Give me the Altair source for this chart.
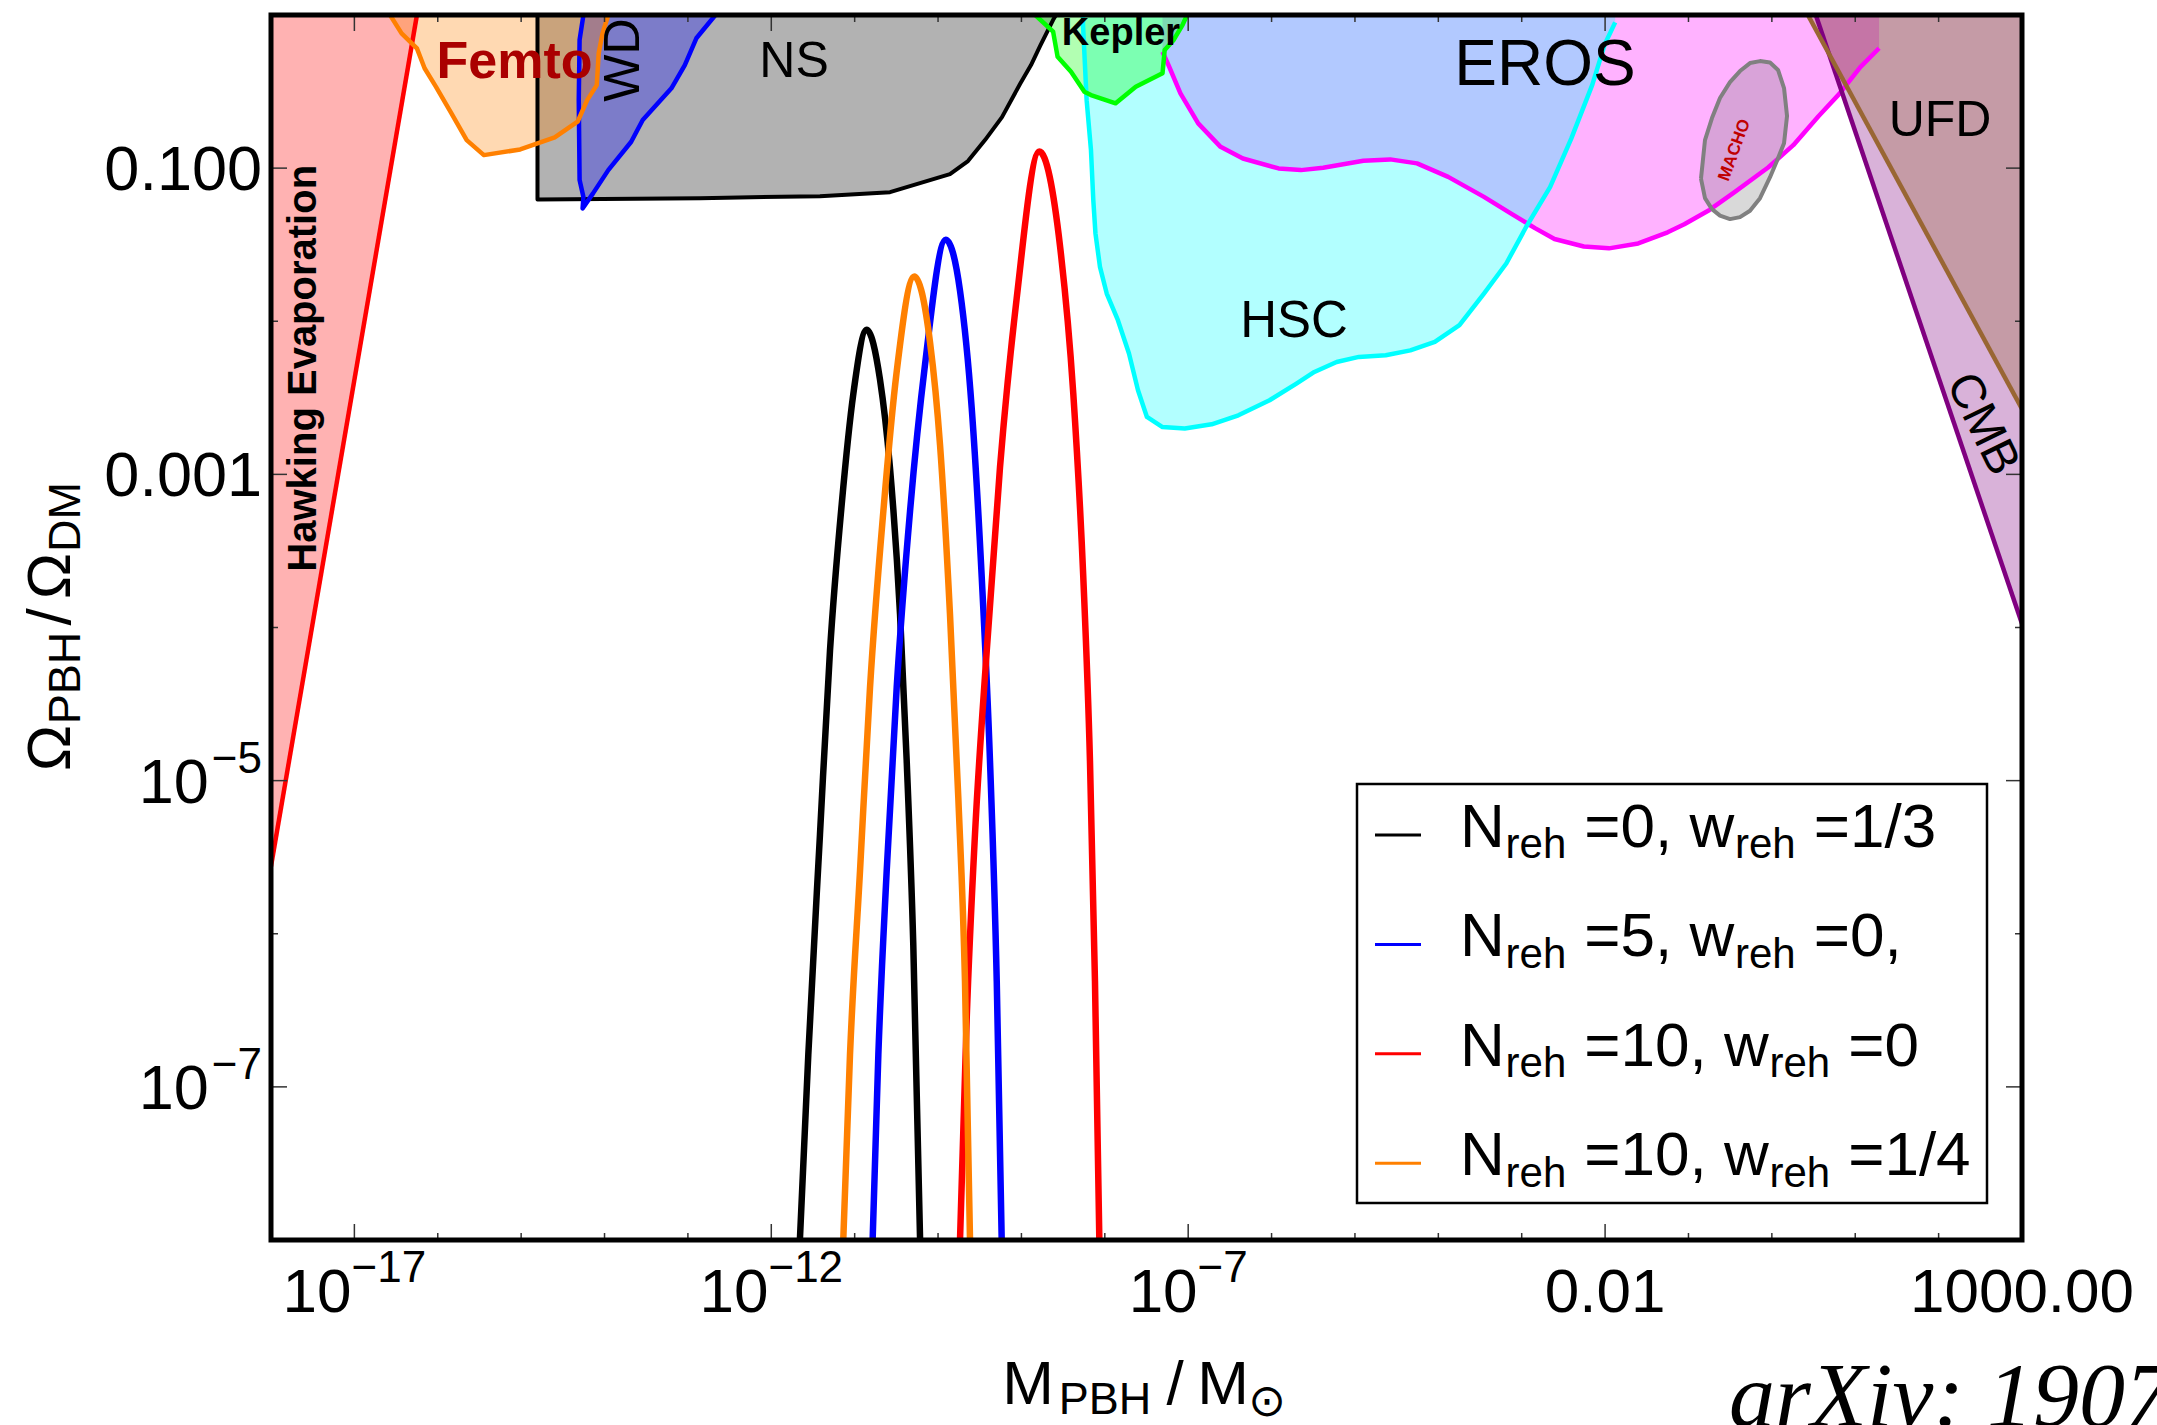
import altair as alt
import numpy as np
import pandas as pd

# ---------------- data: log10(M_PBH / M_sun) and log10(Omega_PBH / Omega_DM) ----------------
HAWKING_LOGM = [-18.0, -16.25]
HAWKING_LOGF = [-5.56, 0.0]

NS_LOGM = [-14.804, -14.804, -12.855, -11.416, -10.576, -9.857, -9.641, -9.437, -9.233, -9.017, -8.885, -8.777, -8.621, -8.585]
NS_LOGF = [0.0, -1.205, -1.196, -1.183, -1.157, -1.039, -0.954, -0.817, -0.667, -0.451, -0.327, -0.203, -0.033, 0.0]

FEMTO_LOGM = [-16.572, -16.434, -16.250, -16.158, -16.021, -15.836, -15.653, -15.447, -15.011, -14.597, -14.323, -14.208, -14.093, -14.070, -14.024, -13.955]
FEMTO_LOGF = [0.0, -0.120, -0.218, -0.348, -0.469, -0.642, -0.817, -0.915, -0.878, -0.799, -0.697, -0.556, -0.458, -0.250, -0.120, 0.0]

WD_LOGM = [-14.253, -14.299, -14.309, -14.299, -14.253, -14.263, -14.138, -13.955, -13.680, -13.542, -13.198, -13.037, -12.899, -12.670]
WD_LOGF = [0.0, -0.163, -0.556, -1.078, -1.188, -1.263, -1.165, -1.013, -0.828, -0.686, -0.479, -0.327, -0.152, 0.0]

KEPLER_LOGM = [-8.834, -8.620, -8.566, -8.405, -8.245, -8.166, -7.870, -7.629, -7.308, -7.282, -7.174, -7.067, -7.014]
KEPLER_LOGF = [0.0, -0.109, -0.273, -0.371, -0.501, -0.523, -0.577, -0.469, -0.381, -0.229, -0.163, -0.065, 0.0]

HSC_LOGM = [-8.262, -8.262, -8.218, -8.166, -8.138, -8.112, -8.058, -7.977, -7.843, -7.710, -7.602, -7.495,
            -7.308, -7.041, -6.719, -6.398, -6.024, -5.702, -5.487, -5.220, -4.953, -4.631, -4.336, -4.042,
            -3.747, -3.453, -3.185, -2.949, -2.660, -2.406, -2.154, -2.005, -1.879]
HSC_LOGF = [0.0, -0.054, -0.556, -0.882, -1.209, -1.427, -1.645, -1.819, -1.993, -2.211, -2.451, -2.625,
            -2.691, -2.701, -2.673, -2.614, -2.516, -2.407, -2.331, -2.266, -2.233, -2.222, -2.190, -2.135,
            -2.026, -1.819, -1.623, -1.386, -1.124, -0.807, -0.456, -0.193, -0.048]

EROS_LOGM = [-7.308, -7.228, -7.093, -6.880, -6.612, -6.344, -5.916, -5.648, -5.381, -4.899, -4.577, -4.256,
             -3.882, -3.453, -3.132, -2.841, -2.607, -2.255, -1.954, -1.603, -1.250, -1.050, -0.748, -0.447,
             -0.045, 0.257, 0.559, 0.809, 1.061, 1.286]
EROS_LOGF = [-0.240, -0.338, -0.512, -0.708, -0.861, -0.937, -1.002, -1.013, -0.998, -0.952, -0.943, -0.969,
             -1.057, -1.188, -1.296, -1.392, -1.463, -1.512, -1.524, -1.492, -1.419, -1.367, -1.273, -1.157,
             -0.996, -0.850, -0.661, -0.515, -0.340, -0.217]

MACHO_LOGM = [-0.850, -0.802, -0.718, -0.622, -0.502, -0.382, -0.262, -0.142, -0.022, 0.074, 0.146, 0.182]
MACHO_UPPER = [-1.069, -0.817, -0.673, -0.542, -0.438, -0.366, -0.314, -0.301, -0.310, -0.359, -0.477, -0.660]
MACHO_LOWER = [-1.069, -1.196, -1.268, -1.310, -1.333, -1.320, -1.278, -1.196, -1.059, -0.935, -0.837, -0.660]

UFD_LOGM = [0.432, 3.0]
UFD_LOGF = [0.0, -2.573]
CMB_LOGM = [0.527, 3.0]
CMB_LOGF = [0.0, -3.976]

# ---------------- PBH abundance curves ----------------
BLACK_LOGM = [-11.656, -11.556, -11.416, -11.296, -11.155, -11.016, -10.856, -10.697, -10.577, -10.456, -10.376, -10.297, -10.216]
BLACK_LOGF = [-7.988, -6.790, -5.351, -4.152, -3.193, -2.474, -2.055, -2.378, -2.953, -3.912, -4.871, -6.070, -7.988]
BLUE_LOGM = [-10.784, -10.716, -10.616, -10.496, -10.336, -10.156, -9.908, -9.736, -9.596, -9.476, -9.377, -9.296, -9.237]
BLUE_LOGF = [-7.988, -6.790, -5.590, -4.392, -3.241, -2.282, -1.467, -1.803, -2.569, -3.673, -4.871, -6.310, -7.988]
RED_LOGM = [-9.736, -9.656, -9.557, -9.416, -9.257, -9.057, -8.786, -8.536, -8.378, -8.258, -8.178, -8.118, -8.066]
RED_LOGF = [-7.988, -6.550, -5.351, -4.152, -2.953, -1.850, -0.892, -1.514, -2.474, -3.673, -4.871, -6.310, -7.988]
ORANGE_LOGM = [-11.136, -11.056, -10.936, -10.816, -10.656, -10.496, -10.285, -10.096, -9.976, -9.857, -9.757, -9.677, -9.617]
ORANGE_LOGF = [-7.988, -6.790, -5.590, -4.392, -3.241, -2.329, -1.707, -2.138, -2.809, -3.912, -5.111, -6.310, -7.988]

LEGEND_N = ["0", "5", "10", "10"]
LEGEND_W = ["1/3", "0,", "0", "1/4"]
LEGEND_COLORS = ["#000000", "#0000FF", "#FF0000", "#FF8000"]

# ---------------- region labels (position in data coordinates) ----------------
LABEL_TEXT = ["Femto", "WD", "NS", "Kepler", "EROS", "HSC", "UFD", "CMB", "MACHO", "Hawking Evaporation"]
LABEL_LOGM = [-15.080, -13.772, -11.727, -7.806, -2.721, -5.731, 2.017, 2.521, -0.447, -17.604]
LABEL_LOGF = [-0.310, -0.294, -0.307, -0.122, -0.332, -2.005, -0.693, -2.673, -0.882, -2.307]

# ---------------- axis ticks ----------------
X_MAJOR_EXP = [-17, -12, -7, -2, 3]
X_MINOR_EXP = [-16, -15, -14, -13, -11, -10, -9, -8, -6, -5, -4, -3, -1, 0, 1, 2]
Y_MAJOR_EXP = [-1, -3, -5, -7]
Y_MINOR_EXP = [-2, -4, -6]
X_TICK_TEXT = ["10", "10", "10", "0.01", "1000.00"]
X_TICK_SUP = ["\u221217", "\u221212", "\u22127", "", ""]
Y_TICK_TEXT = ["0.100", "0.001", "10", "10"]
Y_TICK_SUP = ["", "", "\u22125", "\u22127"]

# ---------------- styling / layout ----------------
W, H = 1751, 1225
FONT = "Liberation Sans, Arial, Helvetica, DejaVu Sans, sans-serif"
SERIF = "Liberation Serif, Times New Roman, DejaVu Serif, serif"
XS = alt.Scale(type="log", domain=[1e-18, 1e3], nice=False)
YS = alt.Scale(type="log", domain=[1e-8, 1.0], nice=False)
X_ENC = dict(scale=XS, axis=None)
Y_ENC = dict(scale=YS, axis=None)

EM = {"N": .722, "r": .333, "e": .556, "h": .556, " ": .278, "=": .584, ",": .278, "w": .722,
      "/": .278, ".": .278, "\u2212": .584}


def tw(s, size):
    return sum(EM.get(c, 0.556) for c in s) * size


def pts(logm, logf):
    return pd.DataFrame({"m": np.power(10.0, np.array(logm, dtype=float)),
                         "f": np.power(10.0, np.array(logf, dtype=float)),
                         "i": np.arange(len(logm))})


def fill_layer(logm, logf, color, close_top=True):
    """Closed polygon: boundary plus the top edge of the plot (log f = 0)."""
    lm, lf = list(logm), list(logf)
    if close_top:
        if lf[-1] != 0.0:
            lm, lf = lm + [lm[-1]], lf + [0.0]
        if lf[0] != 0.0:
            lm, lf = lm + [lm[0]], lf + [0.0]
    return alt.Chart(pts(lm, lf)).mark_line(fill=color, fillOpacity=0.3, strokeOpacity=0, clip=True).encode(
        x=alt.X("m:Q", **X_ENC), y=alt.Y("f:Q", **Y_ENC), order="i:Q")


def stroke_layer(logm, logf, color, width=4.0, interp="linear"):
    return alt.Chart(pts(logm, logf)).mark_line(color=color, strokeWidth=width, clip=True,
                                                interpolate=interp, strokeJoin="round").encode(
        x=alt.X("m:Q", **X_ENC), y=alt.Y("f:Q", **Y_ENC), order="i:Q")


def label_layer(i, size, angle=0, bold=False, color="black", font=FONT):
    df = pd.DataFrame({"m": [10.0 ** LABEL_LOGM[i]], "f": [10.0 ** LABEL_LOGF[i]], "t": [LABEL_TEXT[i]]})
    return alt.Chart(df).mark_text(font=font, fontSize=size, angle=angle,
                                   fontWeight="bold" if bold else "normal", color=color,
                                   align="center", baseline="middle").encode(
        x=alt.X("m:Q", **X_ENC), y=alt.Y("f:Q", **Y_ENC), text="t:N")


macho_outline_m = MACHO_LOGM + MACHO_LOGM[::-1][1:]
macho_outline_f = MACHO_UPPER + MACHO_LOWER[::-1][1:]

REGIONS = [
    (HAWKING_LOGM, HAWKING_LOGF, "#FF0000", 4.5),
    (NS_LOGM, NS_LOGF, "#000000", 4.0),
    (WD_LOGM, WD_LOGF, "#0000FF", 4.5),
    (FEMTO_LOGM, FEMTO_LOGF, "#FF8000", 4.5),
    (EROS_LOGM, EROS_LOGF, "#FF00FF", 4.5),
    (HSC_LOGM, HSC_LOGF, "#00FFFF", 4.5),
    (KEPLER_LOGM, KEPLER_LOGF, "#00FF00", 4.5),
    (CMB_LOGM, CMB_LOGF, "#800080", 4.5),
    (UFD_LOGM, UFD_LOGF, "#996633", 4.5),
]

layers = []
for lm, lf, c, _ in REGIONS:
    layers.append(fill_layer(lm, lf, c))
layers.append(fill_layer(macho_outline_m, macho_outline_f, "#808080", close_top=False))

for lm, lf, c, wdt in REGIONS:
    layers.append(stroke_layer(lm, lf, c, wdt))
layers.append(stroke_layer(macho_outline_m, macho_outline_f, "#808080", 4.0))

# PBH curves
for lm, lf, c in [(BLACK_LOGM, BLACK_LOGF, "#000000"), (BLUE_LOGM, BLUE_LOGF, "#0000FF"),
                  (RED_LOGM, RED_LOGF, "#FF0000"), (ORANGE_LOGM, ORANGE_LOGF, "#FF8000")]:
    layers.append(stroke_layer(lm, lf, c, 6.5, "monotone"))

# region labels
layers += [
    label_layer(0, 52, bold=True, color="#AA0000"),
    label_layer(1, 50, angle=270),
    label_layer(2, 50),
    label_layer(3, 38, bold=True),
    label_layer(4, 64),
    label_layer(5, 51),
    label_layer(6, 50),
    label_layer(7, 48, angle=64),
    label_layer(8, 17, angle=290, bold=True, color="#C00000"),
    label_layer(9, 40, angle=270, bold=True),
]


# ticks
def xticks(exps, length, top):
    df = pd.DataFrame({"v": np.power(10.0, np.array(exps, dtype=float))})
    y0, y1 = (0, length) if top else (H, H - length)
    return alt.Chart(df).mark_rule(color="#333333", strokeWidth=1.5).encode(
        x=alt.X("v:Q", **X_ENC), y=alt.value(y0), y2=alt.value(y1))


def yticks(exps, length, right):
    df = pd.DataFrame({"v": np.power(10.0, np.array(exps, dtype=float))})
    x0, x1 = (W, W - length) if right else (0, length)
    return alt.Chart(df).mark_rule(color="#333333", strokeWidth=1.5).encode(
        y=alt.Y("v:Q", **Y_ENC), x=alt.value(x0), x2=alt.value(x1))


for side in (False, True):
    layers += [xticks(X_MAJOR_EXP, 16, side), xticks(X_MINOR_EXP, 7, side),
               yticks(Y_MAJOR_EXP, 16, side), yticks(Y_MINOR_EXP, 7, side)]

# frame
layers.append(alt.Chart(pd.DataFrame({"a": [0]})).mark_rect(
    fill="white", fillOpacity=0, stroke="black", strokeWidth=5).encode(
    x=alt.value(0), x2=alt.value(W), y=alt.value(0), y2=alt.value(H)))

# x tick labels
for e, t, s in zip(X_MAJOR_EXP, X_TICK_TEXT, X_TICK_SUP):
    df = pd.DataFrame({"v": [10.0 ** e], "t": [t], "s": [s]})
    if s:
        total = tw(t, 62) + tw(s, 44)
        layers.append(alt.Chart(df).mark_text(font=FONT, fontSize=62, align="left", baseline="alphabetic",
                                              dx=-total / 2).encode(
            x=alt.X("v:Q", **X_ENC), y=alt.value(H + 72), text="t:N"))
        layers.append(alt.Chart(df).mark_text(font=FONT, fontSize=44, align="left", baseline="alphabetic",
                                              dx=-total / 2 + tw(t, 62)).encode(
            x=alt.X("v:Q", **X_ENC), y=alt.value(H + 42), text="s:N"))
    else:
        layers.append(alt.Chart(df).mark_text(font=FONT, fontSize=62, align="center", baseline="alphabetic").encode(
            x=alt.X("v:Q", **X_ENC), y=alt.value(H + 72), text="t:N"))

# y tick labels
for e, t, s in zip(Y_MAJOR_EXP, Y_TICK_TEXT, Y_TICK_SUP):
    df = pd.DataFrame({"v": [10.0 ** e], "t": [t], "s": [s]})
    if s:
        layers.append(alt.Chart(df).mark_text(font=FONT, fontSize=44, align="right", baseline="alphabetic",
                                              dy=-8).encode(
            y=alt.Y("v:Q", **Y_ENC), x=alt.value(-9), text="s:N"))
        layers.append(alt.Chart(df).mark_text(font=FONT, fontSize=63, align="right", baseline="alphabetic",
                                              dy=22).encode(
            y=alt.Y("v:Q", **Y_ENC), x=alt.value(-9 - tw(s, 44) - 3), text="t:N"))
    else:
        layers.append(alt.Chart(df).mark_text(font=FONT, fontSize=63, align="right", baseline="alphabetic",
                                              dy=22).encode(
            y=alt.Y("v:Q", **Y_ENC), x=alt.value(-9), text="t:N"))

# axis titles (pieces with subscripts)
xt = pd.DataFrame({"t": ["M", "PBH", "/", "M", "\u2299"],
                   "px": [757, 834, 904, 952, 996],
                   "py": [1389, 1399, 1389, 1389, 1401],
                   "sz": [62, 45, 62, 62, 45]})
layers.append(alt.Chart(xt).mark_text(font=FONT, align="center", baseline="alphabetic").encode(
    x=alt.X("px:Q", scale=None, axis=None), y=alt.Y("py:Q", scale=None, axis=None),
    size=alt.Size("sz:Q", scale=None, legend=None), text="t:N"))
yt = pd.DataFrame({"t": ["\u03a9", "PBH", "/", "\u03a9", "DM"],
                   "px": [-201, -191, -201, -201, -191],
                   "py": [733, 663, 602, 561, 502],
                   "sz": [62, 45, 62, 62, 45]})
layers.append(alt.Chart(yt).mark_text(font=FONT, align="center", baseline="alphabetic", angle=270).encode(
    x=alt.X("px:Q", scale=None, axis=None), y=alt.Y("py:Q", scale=None, axis=None),
    size=alt.Size("sz:Q", scale=None, legend=None), text="t:N"))

# legend
LX0, LY0, LX1, LY1 = 1086, 769, 1716, 1188
layers.append(alt.Chart(pd.DataFrame({"a": [0]})).mark_rect(fill="white", stroke="black", strokeWidth=2.5).encode(
    x=alt.value(LX0), x2=alt.value(LX1), y=alt.value(LY0), y2=alt.value(LY1)))
row_y = [820 + 109.4 * k for k in range(len(LEGEND_N))]
layers.append(alt.Chart(pd.DataFrame({"x1": [1104] * 4, "x2": [1150] * 4, "y": row_y, "c": LEGEND_COLORS})).mark_rule(
    strokeWidth=3).encode(
    x=alt.X("x1:Q", scale=None, axis=None), x2="x2:Q", y=alt.Y("y:Q", scale=None, axis=None),
    color=alt.Color("c:N", scale=None, legend=None)))
rows = []
for k, (n, w) in enumerate(zip(LEGEND_N, LEGEND_W)):
    x = 1189.0
    pieces = [("N", 62, 0), ("reh", 42, 1), (" =" + n + ", w", 62, 0), ("reh", 42, 1), (" =" + w, 62, 0)]
    for s, sz, sub in pieces:
        if s.startswith(" "):
            x += tw(" ", sz)
            s = s[1:]
        rows.append({"t": s, "px": x + (0.8 if sub else 0), "py": row_y[k] + (23.3 if sub else 11.7), "sz": sz})
        x += tw(s, sz) + (1.6 if sub else 0)
layers.append(alt.Chart(pd.DataFrame(rows)).mark_text(font=FONT, align="left", baseline="alphabetic").encode(
    x=alt.X("px:Q", scale=None, axis=None), y=alt.Y("py:Q", scale=None, axis=None),
    size=alt.Size("sz:Q", scale=None, legend=None), text="t:N"))

# arXiv stamp (cut off at the bottom-right edge, as in the original)
layers.append(alt.Chart(pd.DataFrame({"t": ["arXiv: 1907"]})).mark_text(
    font=SERIF, fontSize=92, fontStyle="italic", align="left", baseline="alphabetic").encode(
    x=alt.value(1458), y=alt.value(1411), text="t:N"))

chart = alt.layer(*layers).properties(
    width=W, height=H,
    padding={"left": 271, "top": 15, "right": 135, "bottom": 185},
    autosize=alt.AutoSizeParams(type="none"),
    background="white",
).configure_view(strokeWidth=0)

chart.save("out.html", embed_options={"renderer": "svg", "actions": False})
